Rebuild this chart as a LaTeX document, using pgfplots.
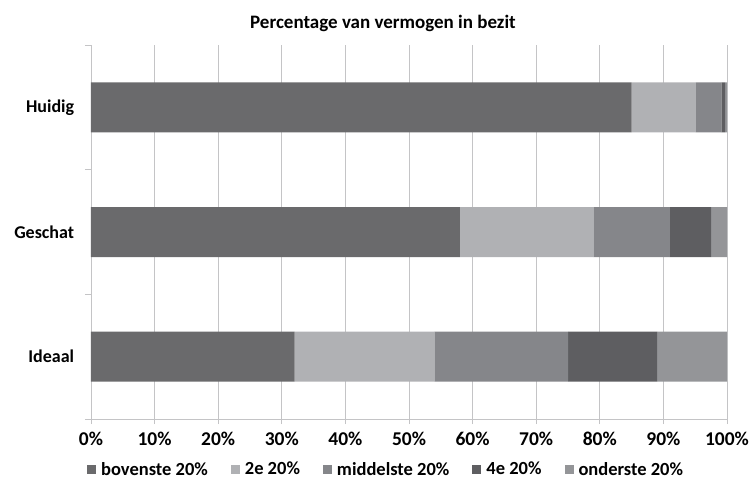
\documentclass[border=0pt]{standalone}
\usepackage{fontspec}
\setmainfont{Carlito}
\usepackage{pgfplots}
\pgfplotsset{compat=1.18}
\definecolor{c1}{HTML}{6A6A6C}
\definecolor{c2}{HTML}{B0B1B4}
\definecolor{c3}{HTML}{85868A}
\definecolor{c4}{HTML}{5E5E61}
\definecolor{c5}{HTML}{949598}
\definecolor{gridc}{HTML}{C4C4C6}
\begin{document}
\fontsize{17}{20}\selectfont
\begin{tikzpicture}
\useasboundingbox (-91pt,-64pt) rectangle (658pt,419pt);
\begin{axis}[
  scale only axis, width=636pt, height=374pt,
  xbar stacked, bar width=50pt,
  xmin=0, xmax=100, ymin=-0.5, ymax=2.5,
  xtick={0,10,...,100},
  xticklabel={\pgfmathprintnumber{\tick}\%},
  /pgf/number format/assume math mode=true,
  xticklabel style={font=\fontsize{19.5}{22}\selectfont\bfseries, yshift=-2pt},
  yticklabel style={font=\fontsize{18}{21}\selectfont\bfseries, xshift=-6pt},
  ytick={0,1,2}, yticklabels={Ideaal,Geschat,Huidig},
  minor ytick={-0.5,0.5,1.5,2.5},
  axis x line*=bottom, axis y line*=left,
  axis line style={draw=gridc, line width=0.8pt},
  xmajorgrids, major grid style={draw=gridc, line width=0.8pt},
  tick align=outside,
  major tick length=5pt, minor tick length=6pt,
  xtick style={draw=gridc, line width=0.8pt},
  major y tick style={draw=none},
  minor y tick style={draw=gridc, line width=0.8pt},
  title={\bfseries Percentage van vermogen in bezit},
  title style={font=\fontsize{19}{22}\selectfont, yshift=1pt, xshift=-26pt},
  legend style={at={(0.464,-0.136)}, anchor=center, draw=none,
    font=\fontsize{18.5}{22}\selectfont\bfseries, column sep=3pt,
    /tikz/every even column/.append style={column sep=21pt}},
  legend columns=5,
  legend image code/.code={\fill[#1] (0pt,-4.5pt) rectangle (9pt,4.5pt);},
]
\addplot[fill=c1, draw=none] coordinates {(32,0) (58,1) (85,2)};
\addplot[fill=c2, draw=none] coordinates {(22,0) (21,1) (10.1,2)};
\addplot[fill=c3, draw=none] coordinates {(21,0) (12,1) (4,2)};
\addplot[fill=c4, draw=none] coordinates {(14,0) (6.5,1) (0.6,2)};
\addplot[fill=c5, draw=none] coordinates {(11,0) (2.5,1) (0.3,2)};
\legend{bovenste 20\%, 2e 20\%, middelste 20\%, 4e 20\%, onderste 20\%}
\end{axis}
\end{tikzpicture}
\end{document}
